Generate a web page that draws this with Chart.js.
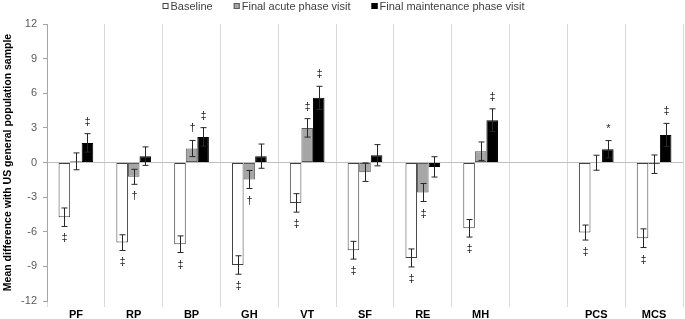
<!DOCTYPE html>
<html lang="en">
<head>
<meta charset="UTF-8" />
<title>Mean difference with US general population</title>
<script src="https://cdn.jsdelivr.net/npm/chart.js"></script>
<style>
  html, body { margin: 0; padding: 0; background: #fff; }
  .wrap { width: 685px; height: 319px; }
</style>
</head>
<body>
<div class="wrap"><canvas id="chart"></canvas></div>
<script>
  // values (mean difference, +/- error)
  const categories = ['PF', 'RP', 'BP', 'GH', 'VT', 'SF', 'RE', 'MH', '', 'PCS', 'MCS'];
  const baseline = [-4.74, -6.94, -7.08, -8.88, -3.5, -7.6, -8.27, -5.7, null, -6.07, -6.56];
  const baselineErr = [0.8, 0.68, 0.72, 0.8, 0.8, 0.77, 0.78, 0.76, null, 0.65, 0.81];
  const acute = [0.1, -1.24, 1.21, -1.47, 3.0, -0.84, -2.6, 0.98, null, -0.02, -0.15];
  const acuteErr = [0.73, 0.65, 0.7, 0.78, 0.8, 0.8, 0.78, 0.8, null, 0.65, 0.8];
  const maintenance = [1.7, 0.55, 2.22, 0.55, 5.6, 0.63, -0.38, 3.67, null, 1.15, 2.39];
  const maintenanceErr = [0.8, 0.8, 0.8, 1.05, 1.0, 0.92, 0.88, 0.98, null, 0.75, 1.0];
  const baselineSig = ['‡', '‡', '‡', '‡', '‡', '‡', '‡', '‡', '', '‡', '‡'];
  const acuteSig = ['', '†', '†', '†', '‡', '', '‡', '', '', '', ''];
  const maintenanceSig = ['‡', '', '‡', '', '‡', '', '', '‡', '', '*', '‡'];
  const yTicks = [-12, -9, -6, -3, 0, 3, 6, 9, 12];

  const FONT = '"Liberation Sans", Arial, sans-serif';

  // error bars + significance marks
  const errorBars = {
    id: 'errorBars',
    afterDatasetsDraw(chart) {
      const ctx = chart.ctx;
      const y = chart.scales.y;
      chart.data.datasets.forEach((ds, i) => {
        const meta = chart.getDatasetMeta(i);
        meta.data.forEach((bar, j) => {
          const v = ds.data[j];
          if (v == null) return;
          const e = ds.errors[j];
          const yTop = y.getPixelForValue(v + e);
          const yBot = y.getPixelForValue(v - e);
          const x = Math.round(bar.x) + 0.5;
          ctx.save();
          ctx.strokeStyle = '#262626';
          ctx.lineWidth = 1;
          ctx.beginPath();
          ctx.moveTo(x, yTop); ctx.lineTo(x, yBot);
          ctx.moveTo(x - 3, yTop); ctx.lineTo(x + 3, yTop);
          ctx.moveTo(x - 3, yBot); ctx.lineTo(x + 3, yBot);
          ctx.stroke();
          const s = ds.sig[j];
          if (s) {
            ctx.fillStyle = '#262626';
            ctx.font = '11px ' + FONT;
            ctx.textAlign = 'center';
            ctx.textBaseline = 'middle';
            ctx.fillText(s, x, v >= 0 ? yTop - 12 : yBot + 12);
          }
          ctx.restore();
        });
      });
    }
  };

  // Excel-like legend centred on top
  const topLegend = {
    id: 'topLegend',
    afterDraw(chart) {
      const ctx = chart.ctx;
      const box = 6, gapText = 2, gapItem = 21;
      ctx.save();
      ctx.font = '11px ' + FONT;
      const items = chart.data.datasets.map(ds => ({
        ds, w: box + gapText + ctx.measureText(ds.label).width
      }));
      const total = items.reduce((a, it) => a + it.w, 0) + gapItem * (items.length - 1);
      let x = (chart.width - total) / 2 + 1;
      const cy = 6;
      items.forEach(it => {
        ctx.fillStyle = it.ds.backgroundColor;
        ctx.fillRect(x, cy - box / 2, box, box);
        ctx.strokeStyle = it.ds.borderColor;
        ctx.lineWidth = 1;
        ctx.strokeRect(x + 0.5, cy - box / 2 + 0.5, box - 1, box - 1);
        ctx.fillStyle = '#404040';
        ctx.textBaseline = 'middle';
        ctx.textAlign = 'left';
        ctx.fillText(it.ds.label, x + box + gapText, cy + 1);
        x += it.w + gapItem;
      });
      ctx.restore();
    }
  };

  const ctx = document.getElementById('chart').getContext('2d');
  new Chart(ctx, {
    type: 'bar',
    data: {
      labels: categories,
      datasets: [
        { label: 'Baseline', data: baseline, errors: baselineErr, sig: baselineSig,
          backgroundColor: '#ffffff', borderColor: '#404040', borderWidth: 1, borderSkipped: false },
        { label: 'Final acute phase visit', data: acute, errors: acuteErr, sig: acuteSig,
          backgroundColor: '#a6a6a6', borderColor: '#595959', borderWidth: 1, borderSkipped: false },
        { label: 'Final maintenance phase visit', data: maintenance, errors: maintenanceErr, sig: maintenanceSig,
          backgroundColor: '#000000', borderColor: '#000000', borderWidth: 1, borderSkipped: false }
      ]
    },
    options: {
      responsive: true,
      maintainAspectRatio: false,
      animation: false,
      layout: { padding: { top: 24, right: 2, bottom: 0, left: 0 } },
      datasets: { bar: { categoryPercentage: 0.6, barPercentage: 1.0 } },
      plugins: {
        legend: { display: false },
        tooltip: { enabled: false }
      },
      scales: {
        x: {
          grid: { offset: true, color: '#d9d9d9', drawTicks: true, tickLength: 6 },
          border: { display: false },
          ticks: { color: '#000', font: { family: FONT, size: 11, weight: 'bold' }, padding: 1, maxRotation: 0, autoSkip: false },
          afterFit(scale) { scale.height = 18; }
        },
        y: {
          min: -12, max: 12,
          afterBuildTicks(scale) { scale.ticks = yTicks.map(v => ({ value: v })); },
          grid: {
            color: c => (c.tick && c.tick.value === 0 ? '#bfbfbf' : 'rgba(0,0,0,0)'),
            tickColor: '#a6a6a6', tickLength: 4, drawTicks: true
          },
          border: { display: true, color: '#a6a6a6' },
          ticks: { color: '#595959', font: { family: FONT, size: 11 }, padding: 6 },
          title: {
            display: true, text: 'Mean difference with US general population sample',
            color: '#000', font: { family: FONT, size: 10.5, weight: 'bold' }, padding: { top: 2, bottom: 0 }
          },
          afterFit(scale) { scale.width = 47; }
        }
      }
    },
    plugins: [errorBars, topLegend]
  });
</script>
</body>
</html>
